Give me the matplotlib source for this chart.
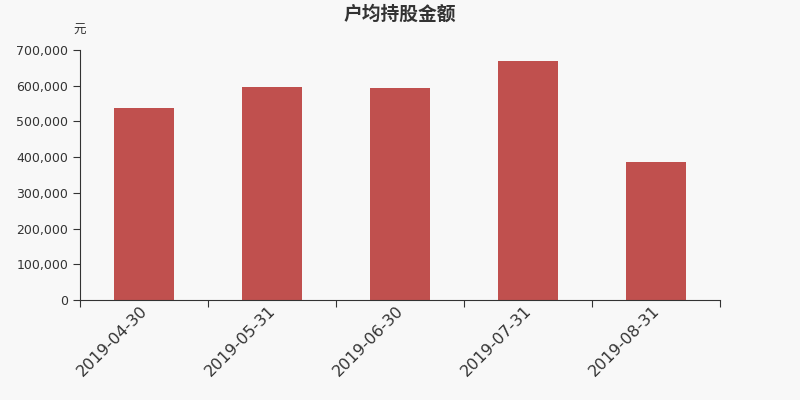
import matplotlib
matplotlib.use("Agg")
import matplotlib.pyplot as plt
import matplotlib.transforms as mtransforms
from matplotlib.ticker import FuncFormatter, FixedLocator

plt.rcParams['font.family'] = ['DejaVu Sans', 'Noto Sans CJK SC']

categories = ["2019-04-30", "2019-05-31", "2019-06-30", "2019-07-31", "2019-08-31"]
values = [538000, 597000, 593000, 670000, 386000]
title = "户均持股金额"
unit = "元"

bg = "#f8f8f8"
fig = plt.figure(figsize=(8, 4), dpi=100, facecolor=bg)
ax = fig.add_axes([0.1, 0.25, 0.8, 0.625], facecolor=bg)

x = list(range(len(categories)))
ax.bar(x, values, width=0.47, color="#c0504e", zorder=2)

ax.set_xlim(-0.5, len(categories) - 0.5)
ax.set_ylim(0, 700000)
ax.yaxis.set_major_locator(FixedLocator([i * 100000 for i in range(8)]))
ax.yaxis.set_major_formatter(FuncFormatter(lambda v, p: f"{int(v):,}"))

ax.set_xticks([i - 0.5 for i in range(len(categories) + 1)])
ax.set_xticklabels([])
ax.set_xticks(x, minor=True)
ax.set_xticklabels(categories, minor=True, rotation=45, ha="right",
                   rotation_mode="anchor", fontsize=11.5, color="#333333")
ax.tick_params(axis="x", which="minor", length=0, pad=2)
ax.tick_params(axis="x", which="major", length=5, color="#333333")
ax.tick_params(axis="y", length=5, labelsize=9, colors="#333333")

offset = mtransforms.ScaledTranslation(-4 / 100, 0, fig.dpi_scale_trans)
for lbl in ax.get_xticklabels(minor=True):
    lbl.set_transform(lbl.get_transform() + offset)

for s in ["top", "right"]:
    ax.spines[s].set_visible(False)
for s in ["left", "bottom"]:
    ax.spines[s].set_color("#333333")

fig.text(0.5, 0.965, title, ha="center", va="center", fontsize=13.5,
         fontweight="bold", color="#333333", family=["Noto Sans CJK SC", "DejaVu Sans"])
fig.text(0.1, 0.925, unit, ha="center", va="center", fontsize=9,
         color="#333333", family=["Noto Sans CJK SC", "DejaVu Sans"])

fig.savefig("out.png", dpi=100, facecolor=bg)
